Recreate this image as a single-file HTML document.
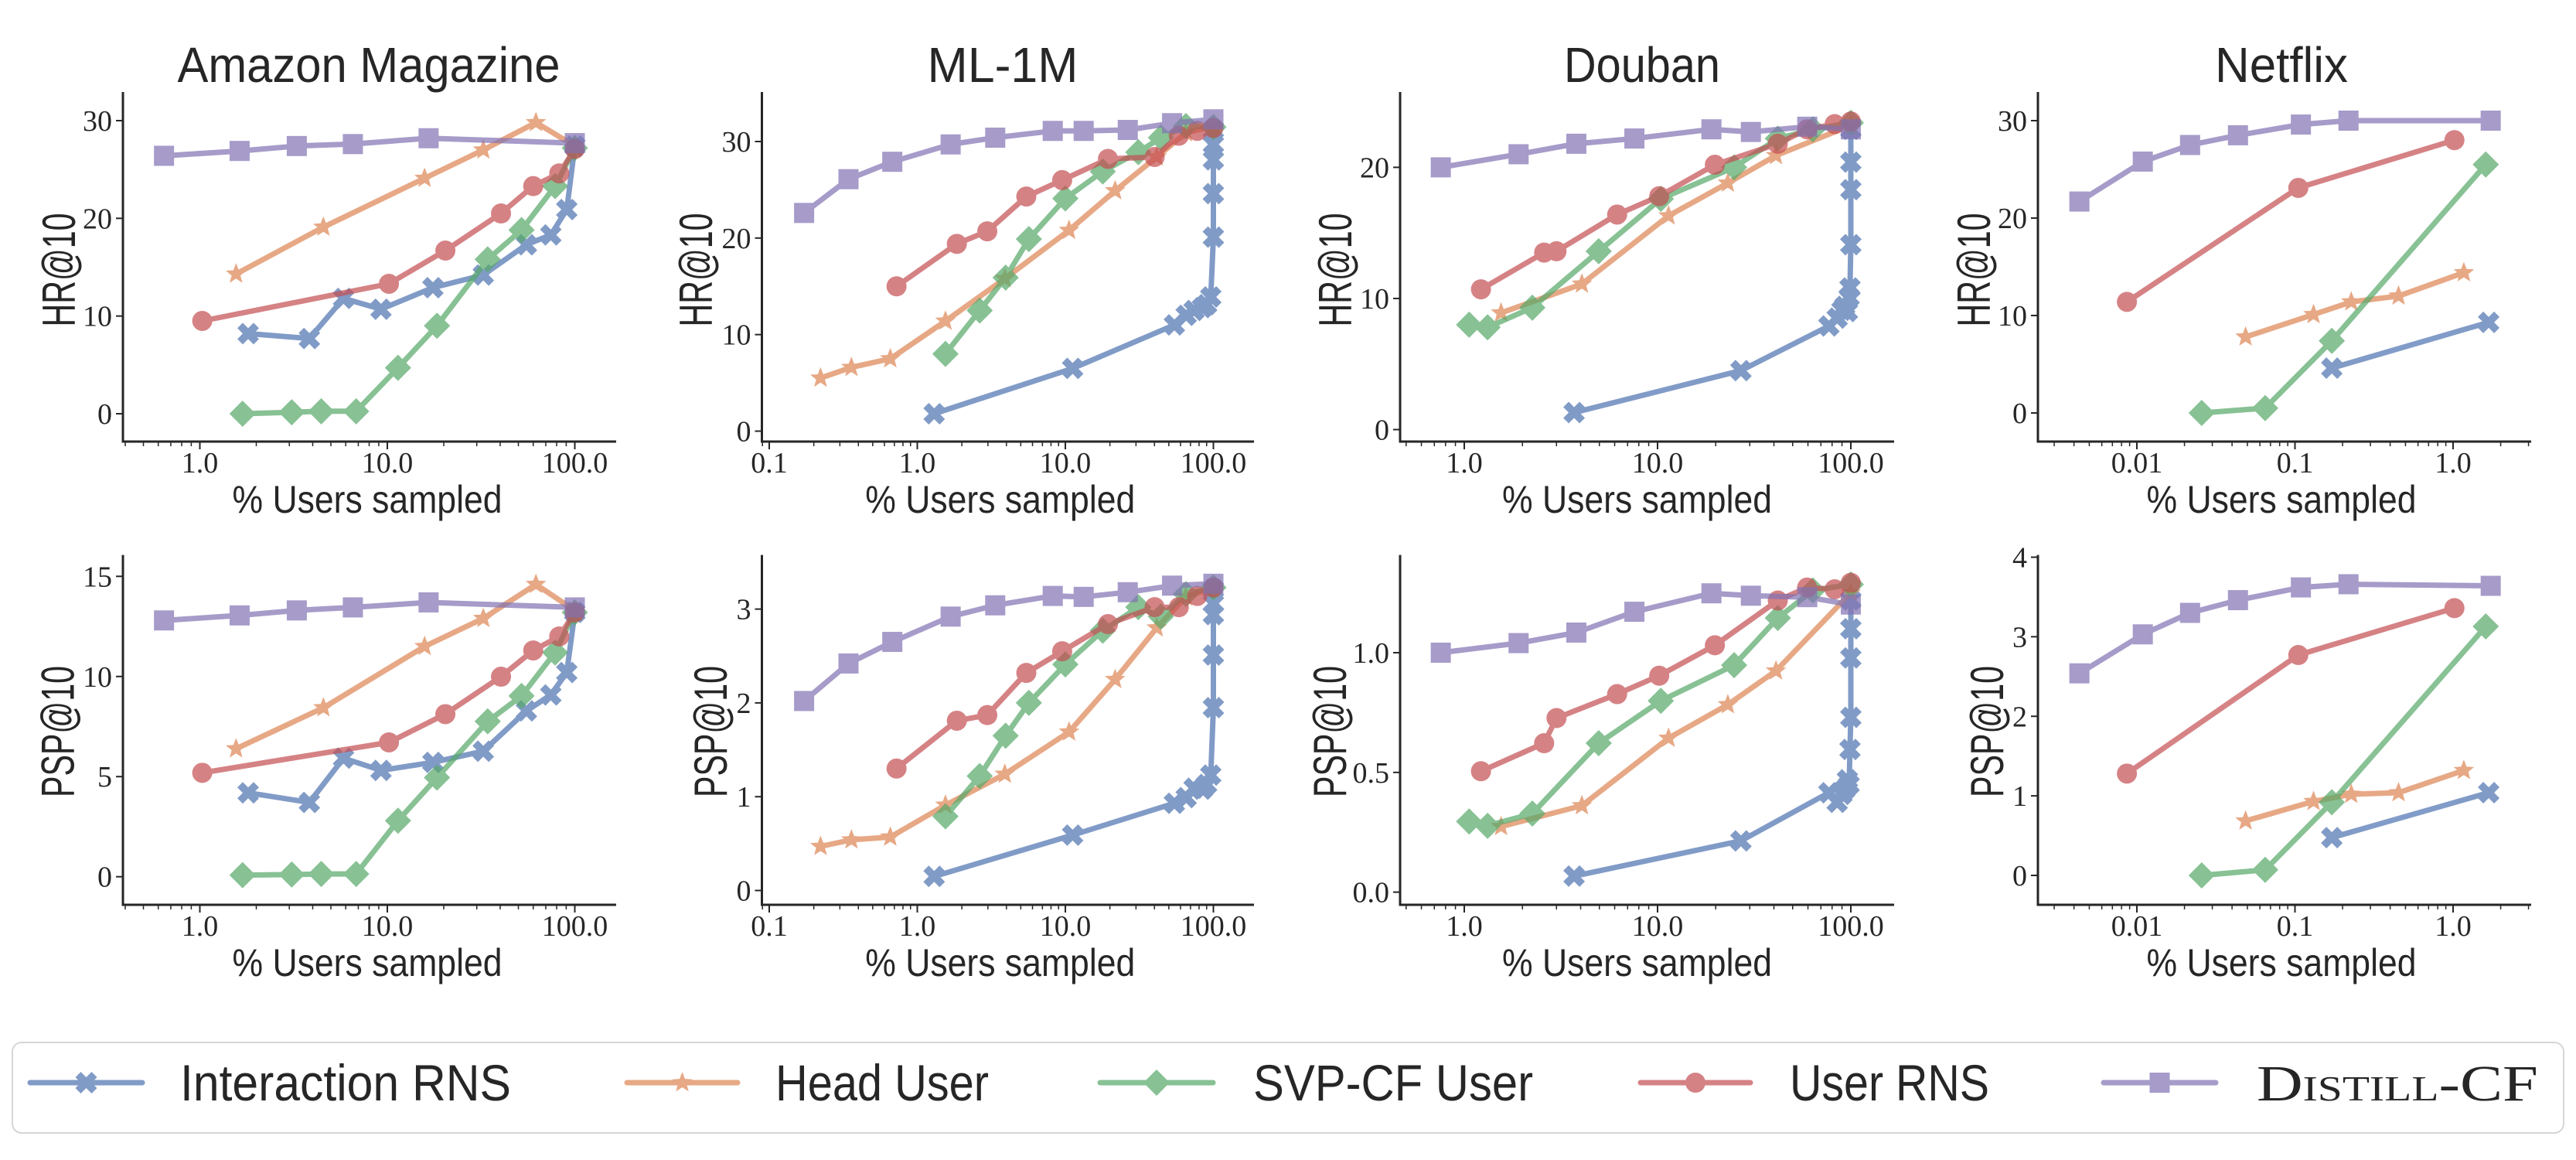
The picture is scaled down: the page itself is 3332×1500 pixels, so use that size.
<!DOCTYPE html>
<html><head><meta charset="utf-8"><title>Users sampled vs HR@10 / PSP@10</title>
<style>html,body{margin:0;padding:0;background:#fff}svg{display:block}</style></head>
<body>
<svg id="fig" xmlns="http://www.w3.org/2000/svg" width="3332" height="1500" viewBox="0 0 3332 1500">
<rect width="3332" height="1500" fill="#fff"/>
</svg>
<script>
// ---- data: Amazon Magazine ----
const irns_x_amz=[1.81,3.84,5.84,9.25,17.5,32.5,55.2,74.5,90.6,100];
const irns_hr_amz=[8.2,7.7,11.8,10.7,12.9,14.2,17.3,18.3,20.9,27.4];
const irns_psp_amz=[4.19,3.71,5.92,5.31,5.71,6.27,8.28,9.08,10.2,13.2];
const head_x_amz=[1.56,4.56,15.8,32.5,62.0,100];
const head_hr_amz=[14.3,19.1,24.1,27.0,29.8,27.4];
const head_psp_amz=[6.39,8.44,11.5,12.9,14.6,13.3];
const svp_x_amz=[1.69,3.09,4.44,6.82,11.4,18.4,34.3,52.0,78.5,100];
const svp_hr_amz=[0,0.15,0.25,0.25,4.7,9.0,15.8,18.8,23.3,27.2];
const svp_psp_amz=[0.08,0.11,0.14,0.14,2.8,4.95,7.76,9.03,11.2,13.2];
const urns_x_amz=[1.03,10.2,20.4,40.4,60.0,82.6,100];
const urns_hr_amz=[9.5,13.3,16.7,20.5,23.3,24.6,27.1];
const urns_psp_amz=[5.19,6.71,8.12,9.99,11.3,12.0,13.2];
const dist_x_amz=[0.644,1.63,3.29,6.55,16.6,100];
const dist_hr_amz=[26.4,26.9,27.4,27.6,28.2,27.7];
const dist_psp_amz=[12.8,13.05,13.3,13.45,13.7,13.45];
// ---- data: ML-1M ----
const irns_x_ml=[1.30,11.2,54.5,65.5,74.0,84.3,90,96,100,100,100,100,100];
const irns_hr_ml=[1.8,6.5,11.0,12.0,12.5,12.8,13.1,13.9,20.1,24.6,28.1,29.7,31.2];
const irns_psp_ml=[0.15,0.59,0.93,0.99,1.09,1.08,1.13,1.23,1.95,2.51,2.94,3.06,3.21];
const head_x_ml=[0.222,0.359,0.657,1.55,3.9,10.6,21.7,41.4,65.2,100];
const head_hr_ml=[5.5,6.6,7.5,11.4,15.8,20.8,24.9,28.4,30.9,31.6];
const head_psp_ml=[0.47,0.54,0.57,0.91,1.24,1.69,2.25,2.80,3.13,3.23];
const svp_x_ml=[1.55,2.64,3.95,5.67,10,17.9,31.1,44.2,65.2,100];
const svp_hr_ml=[8.0,12.5,15.9,19.9,24.1,26.9,28.9,30.4,31.6,31.5];
const svp_psp_ml=[0.79,1.22,1.65,2.0,2.41,2.77,3.02,2.92,3.16,3.23];
const urns_x_ml=[0.724,1.85,2.97,5.45,9.52,19.4,40.1,58.4,77.8,100];
const urns_hr_ml=[15.0,19.4,20.7,24.3,26.0,28.2,28.4,30.6,31.1,31.4];
const urns_psp_ml=[1.30,1.81,1.87,2.32,2.55,2.84,3.02,3.02,3.14,3.23];
const dist_x_ml=[0.172,0.343,0.678,1.68,3.36,8.22,13.3,26.4,52.6,100];
const dist_hr_ml=[22.6,26.1,27.9,29.7,30.4,31.1,31.1,31.2,31.9,32.3];
const dist_psp_ml=[2.02,2.42,2.65,2.92,3.04,3.14,3.13,3.18,3.25,3.27];
// ---- data: Douban ----
const irns_x_db=[3.7,27,77,85,90,93,96,98,99,100,100,100,100];
const irns_hr_db=[1.3,4.5,7.9,8.5,9.1,9.4,9.0,10.1,10.8,14.1,18.3,20.4,22.9];
const irns_psp_db=[0.067,0.214,0.415,0.375,0.408,0.428,0.469,0.449,0.596,0.73,0.978,1.10,1.22];
const head_x_db=[1.55,4.06,11.4,23.1,41.0,100];
const head_hr_db=[8.9,11.1,16.3,18.8,20.9,23.2];
const head_psp_db=[0.274,0.361,0.643,0.783,0.924,1.25];
const svp_x_db=[1.06,1.32,2.25,4.96,10.4,24.9,41.9,63.6,100];
const svp_hr_db=[8.0,7.8,9.3,13.6,17.6,20.0,22.2,22.9,23.4];
const svp_psp_db=[0.295,0.277,0.328,0.622,0.799,0.948,1.145,1.26,1.285];
const urns_x_db=[1.22,2.59,3.0,6.18,10.2,19.8,41.9,59.4,82.5,100];
const urns_hr_db=[10.7,13.5,13.6,16.4,17.8,20.2,21.8,22.9,23.3,23.5];
const urns_psp_db=[0.505,0.622,0.727,0.827,0.904,1.031,1.218,1.272,1.265,1.292];
const dist_x_db=[0.756,1.91,3.8,7.59,19.0,30.4,59.5,100];
const dist_hr_db=[20.0,21.0,21.8,22.2,22.9,22.7,23.1,22.9];
const dist_psp_db=[1.0,1.04,1.084,1.171,1.248,1.238,1.232,1.201];
// ---- data: Netflix ----
const irns_x_nf=[0.171,1.68];
const irns_hr_nf=[4.6,9.3];
const irns_psp_nf=[0.475,1.04];
const head_x_nf=[0.0487,0.131,0.227,0.452,1.17];
const head_hr_nf=[7.8,10.1,11.4,12.0,14.4];
const head_psp_nf=[0.685,0.93,1.02,1.04,1.32];
const svp_x_nf=[0.0257,0.0648,0.171,1.61];
const svp_hr_nf=[0,0.5,7.4,25.5];
const svp_psp_nf=[0,0.07,0.92,3.13];
const urns_x_nf=[0.00865,0.105,1.02];
const urns_hr_nf=[11.4,23.1,28.0];
const urns_psp_nf=[1.28,2.77,3.36];
const dist_x_nf=[0.00433,0.0109,0.0217,0.0436,0.109,0.218,1.73];
const dist_hr_nf=[21.7,25.8,27.5,28.5,29.6,30.0,30.0];
const dist_psp_nf=[2.54,3.03,3.30,3.46,3.62,3.66,3.64];
// ---- tick labels ----
const xticks_amz=[1,10,100];
const xtickLabels_amz=["1.0","10.0","100.0"];
const xticks_ml=[0.1,1,10,100];
const xtickLabels_ml=["0.1","1.0","10.0","100.0"];
const xticks_db=[1,10,100];
const xtickLabels_db=["1.0","10.0","100.0"];
const xticks_nf=[0.01,0.1,1];
const xtickLabels_nf=["0.01","0.1","1.0"];
const yticks_amz_hr=[0,10,20,30];
const yticks_ml_hr=[0,10,20,30];
const yticks_db_hr=[0,10,20];
const yticks_nf_hr=[0,10,20,30];
const yticks_amz_psp=[0,5,10,15];
const yticks_ml_psp=[0,1,2,3];
const yticks_db_psp=[0.0,0.5,1.0];
const yticksLabels_db_psp=["0.0","0.5","1.0"];
const yticks_nf_psp=[0,1,2,3,4];
const seriesNames=["Interaction RNS","Head User","SVP-CF User","User RNS","Distill-CF"];

const NS="http://www.w3.org/2000/svg";
const svg=document.getElementById('fig');
const COLORS=["#4c72b0","#dd8452","#55a868","#c44e52","#8172b3"];
const SHAPES=["X","star","diamond","circle","square"];
function mk(tag,attrs,parent){const e=document.createElementNS(NS,tag);for(const k in attrs)e.setAttribute(k,attrs[k]);(parent||svg).appendChild(e);return e;}

function marker(g,shape,cx,cy,color){
  let e;
  if(shape==="circle"){e=mk('circle',{cx:cx,cy:cy,r:13,fill:color},g);}
  else if(shape==="square"){e=mk('rect',{x:cx-13,y:cy-13,width:26,height:26,fill:color},g);}
  else if(shape==="diamond"){e=mk('polygon',{points:`${cx},${cy-17} ${cx+17},${cy} ${cx},${cy+17} ${cx-17},${cy}`,fill:color},g);}
  else if(shape==="star"){let p=[];for(let i=0;i<10;i++){const r=i%2?6:14;const a=-Math.PI/2+i*Math.PI/5;p.push((cx+r*Math.cos(a)).toFixed(1)+","+(cy+r*Math.sin(a)).toFixed(1));}e=mk('polygon',{points:p.join(' '),fill:color},g);}
  else {const s=14,w=7;const pts=[[0,-w],[s-w,-s],[s,-s+w],[w,0],[s,s-w],[s-w,s],[0,w],[-s+w,s],[-s,s-w],[-w,0],[-s,-s+w],[-s+w,-s]];e=mk('polygon',{points:pts.map(q=>(cx+q[0])+","+(cy+q[1])).join(' '),fill:color},g);}
  
  
  return e;
}

const cols=[
 {key:'amz',title:'Amazon Magazine',tcx:477,tw:495,x0:258.5,l0:0,dec:242.5,left:159,right:797,lo:-0.41,hi:2.22,ticks:xticks_amz,tl:xtickLabels_amz,ylx:[76,74.5]},
 {key:'ml',title:'ML-1M',tcx:1297,tw:195,x0:995,l0:-1,dec:191.5,left:985.5,right:1622,lo:-1.05,hi:2.27,ticks:xticks_ml,tl:xtickLabels_ml,ylx:[900,919]},
 {key:'db',title:'Douban',tcx:2124,tw:202,x0:1894,l0:0,dec:250,left:1811,right:2450,lo:-0.33,hi:2.22,ticks:xticks_db,tl:xtickLabels_db,ylx:[1727,1720]},
 {key:'nf',title:'Netflix',tcx:2951,tw:172,x0:2764,l0:-2,dec:204.5,left:2636,right:3274,lo:-2.63,hi:0.49,ticks:xticks_nf,tl:xtickLabels_nf,ylx:[2553,2570]}
];
const rows=[
 {metric:'hr',label:'HR@10',top:119,base:571,ylen:147,ycy:349,cfg:{amz:[535,0,156,30,yticks_amz_hr],ml:[557.5,0,183,30,yticks_ml_hr],db:[555.5,0,216.4,20,yticks_db_hr],nf:[534,0,156,30,yticks_nf_hr]}},
 {metric:'psp',label:'PSP@10',top:717.6,base:1170,ylen:170,ycy:946,cfg:{amz:[1133.7,0,745.3,15,yticks_amz_psp],ml:[1151.5,0,787.6,3,yticks_ml_psp],db:[1153.6,0,844,1,yticks_db_psp],nf:[1132,0,720.5,4,yticks_nf_psp]}}
];
const DATA={
 amz:{x:[irns_x_amz,head_x_amz,svp_x_amz,urns_x_amz,dist_x_amz],hr:[irns_hr_amz,head_hr_amz,svp_hr_amz,urns_hr_amz,dist_hr_amz],psp:[irns_psp_amz,head_psp_amz,svp_psp_amz,urns_psp_amz,dist_psp_amz]},
 ml:{x:[irns_x_ml,head_x_ml,svp_x_ml,urns_x_ml,dist_x_ml],hr:[irns_hr_ml,head_hr_ml,svp_hr_ml,urns_hr_ml,dist_hr_ml],psp:[irns_psp_ml,head_psp_ml,svp_psp_ml,urns_psp_ml,dist_psp_ml]},
 db:{x:[irns_x_db,head_x_db,svp_x_db,urns_x_db,dist_x_db],hr:[irns_hr_db,head_hr_db,svp_hr_db,urns_hr_db,dist_hr_db],psp:[irns_psp_db,head_psp_db,svp_psp_db,urns_psp_db,dist_psp_db]},
 nf:{x:[irns_x_nf,head_x_nf,svp_x_nf,urns_x_nf,dist_x_nf],hr:[irns_hr_nf,head_hr_nf,svp_hr_nf,urns_hr_nf,dist_hr_nf],psp:[irns_psp_nf,head_psp_nf,svp_psp_nf,urns_psp_nf,dist_psp_nf]}
};
const AX="#262626";

rows.forEach((row,ri)=>{
 cols.forEach((col,ci)=>{
  const g=mk('g',{});
  
  
  const c=row.cfg[col.key];
  const yS=v=>c[0]+(v-c[1])*(c[2]-c[0])/(c[3]-c[1]);
  const xS=v=>col.x0+(Math.log10(v)-col.l0)*col.dec;
  if(ri===0){const t=mk('text',{x:col.tcx,y:106,'text-anchor':'middle','font-family':'Liberation Sans, sans-serif','font-size':64,fill:AX,textLength:col.tw,lengthAdjust:'spacingAndGlyphs'},g);t.textContent=col.title;}
  const ya=mk('line',{x1:col.left,y1:row.top,x2:col.left,y2:row.base+1.5,stroke:AX,'stroke-width':3},g);
  
  const xa=mk('line',{x1:col.left-1.5,y1:row.base,x2:col.right,y2:row.base,stroke:AX,'stroke-width':3},g);
  
  c[4].forEach((v,i)=>{const y=yS(v);mk('line',{x1:col.left-9,y1:y,x2:col.left,y2:y,stroke:AX,'stroke-width':2},g);
   const t=mk('text',{x:col.left-14,y:y+13,'text-anchor':'end','font-family':'Liberation Serif, serif','font-size':38,fill:AX},g);
   t.textContent=(col.key==='db'&&row.metric==='psp')?yticksLabels_db_psp[i]:String(v);
   });
  for(let d=Math.floor(col.lo);d<=Math.ceil(col.hi);d++){
   for(let m=1;m<10;m++){const lv=d+Math.log10(m);if(lv<col.lo||lv>col.hi)continue;const x=col.x0+(lv-col.l0)*col.dec;
    mk('line',{x1:x,y1:row.base,x2:x,y2:row.base+(m===1?10:6),stroke:AX,'stroke-width':m===1?2:1.5},g);}
  }
  col.ticks.forEach((v,i)=>{const t=mk('text',{x:xS(v),y:row.base+40,'text-anchor':'middle','font-family':'Liberation Serif, serif','font-size':38,fill:AX},g);t.textContent=col.tl[i];});
  const xl=mk('text',{x:(col.left+col.right)/2+(col.key==='amz'?-3:col.key==='ml'?-10:col.key==='db'?-13:-4),y:row.base+92,'text-anchor':'middle','font-family':'Liberation Sans, sans-serif','font-size':50,fill:AX,textLength:349,lengthAdjust:'spacingAndGlyphs'},g);
  xl.textContent='% Users sampled';
  const lx=col.ylx[ri];
  const yl=mk('text',{x:0,y:0,transform:`translate(${lx+21},${row.ycy}) rotate(-90)`,'text-anchor':'middle','font-family':'Liberation Sans, sans-serif','font-size':60,fill:AX,textLength:row.ylen,lengthAdjust:'spacingAndGlyphs'},g);
  yl.textContent=row.label;
  const D=DATA[col.key];
  for(let s=0;s<5;s++){
   const sg=mk('g',{opacity:0.7},g);
   
   
   const xs=D.x[s],ys=D[row.metric][s];
   const pts=xs.map((xv,i)=>xS(xv).toFixed(1)+","+yS(ys[i]).toFixed(1)).join(' ');
   const pl=mk('polyline',{points:pts,fill:'none',stroke:COLORS[s],'stroke-width':7,'stroke-linejoin':'round','stroke-linecap':'round'},sg);
   
   xs.forEach((xv,i)=>marker(sg,SHAPES[s],xS(xv),yS(ys[i]),COLORS[s]));
  }
 });
});

const lg=mk('g',{});


mk('rect',{x:16,y:1348,width:3300,height:117,rx:12,fill:'#fff',stroke:'#d6d6d6','stroke-width':2},lg);
const legLine=[[39,184],[811,954],[1423,1569],[2122,2264],[2721,2866]];
const legText=[[233,428],[1003,276],[1621,362],[2315,258],[2919,364]];
for(let s=0;s<5;s++){
 const eg=mk('g',{},lg);
 
 
 const sg=mk('g',{opacity:0.7},eg);
 mk('line',{x1:legLine[s][0],y1:1400,x2:legLine[s][1],y2:1400,stroke:COLORS[s],'stroke-width':7,'stroke-linecap':'round'},sg);
 marker(sg,SHAPES[s],(legLine[s][0]+legLine[s][1])/2,1400,COLORS[s]);
 const t=mk('text',{x:legText[s][0],y:1423,'font-family':s===4?'Liberation Serif, serif':'Liberation Sans, sans-serif','font-size':66,fill:AX,textLength:legText[s][1],lengthAdjust:'spacingAndGlyphs'},eg);
 if(s===4)t.setAttribute('font-variant','small-caps');
 t.textContent=seriesNames[s];
 
 
}
</script>
</body></html>
